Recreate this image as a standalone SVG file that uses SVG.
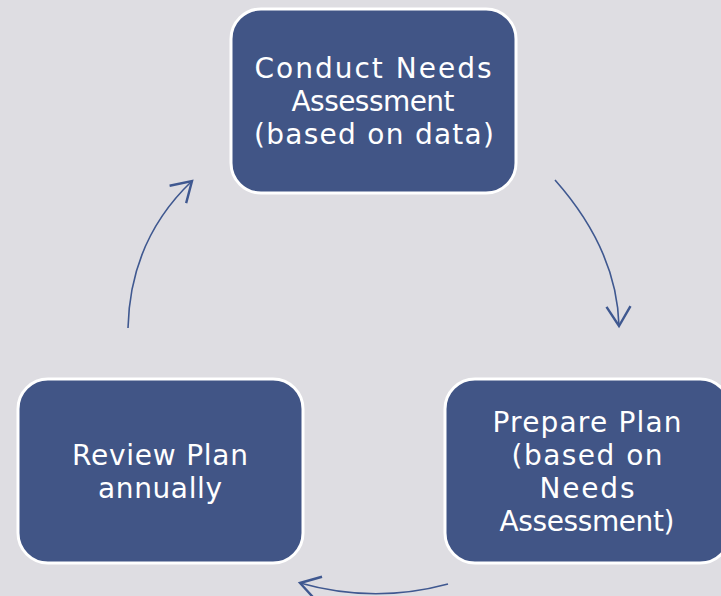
<svg xmlns="http://www.w3.org/2000/svg" width="721" height="596" viewBox="0 0 721 596">
<style>
.box{fill:#415586;stroke:#ffffff;stroke-width:3}
.t{font-family:"DejaVu Sans","Liberation Sans",Arial,sans-serif;font-size:28px;fill:#ffffff;text-anchor:middle}
.c{fill:none;stroke:#3f5890;stroke-width:1.6}
</style>
<defs>
<marker id="ah" markerUnits="userSpaceOnUse" markerWidth="30" markerHeight="30" refX="0" refY="0" viewBox="-16 -10 20 20" orient="auto">
<path d="M-13,-8 L0,0 L-13,8" fill="none" stroke="#3f5890" stroke-width="1.6"/>
</marker>
</defs>
<rect width="721" height="596" fill="#dedde2"/>
<g id="node-conduct">
<rect class="box" x="231" y="9" width="285" height="184" rx="30"/>
<text class="t"><tspan x="373" y="78" textLength="237" lengthAdjust="spacing">Conduct Needs</tspan><tspan x="373" y="111" textLength="163" lengthAdjust="spacing">Assessment</tspan><tspan x="374" y="144" textLength="240" lengthAdjust="spacing">(based on data)</tspan></text>
</g>
<g id="node-prepare">
<rect class="box" x="445" y="379" width="285" height="184" rx="30"/>
<text class="t"><tspan x="587" y="432" textLength="189" lengthAdjust="spacing">Prepare Plan</tspan><tspan x="587" y="465" textLength="151" lengthAdjust="spacing">(based on</tspan><tspan x="587" y="498" textLength="95" lengthAdjust="spacing">Needs</tspan><tspan x="587" y="531" textLength="175" lengthAdjust="spacing">Assessment)</tspan></text>
</g>
<g id="node-review">
<rect class="box" x="18" y="379" width="285" height="184" rx="30"/>
<text class="t"><tspan x="160" y="465" textLength="176" lengthAdjust="spacing">Review Plan</tspan><tspan x="160" y="498" textLength="124" lengthAdjust="spacing">annually</tspan></text>
</g>
<g id="connectors">
<path class="c" d="M555,180 Q617,250 619,326" marker-end="url(#ah)"/>
<path class="c" d="M448,584 Q374,604 300,583" marker-end="url(#ah)"/>
<path class="c" d="M128,328 Q130,240 192,181" marker-end="url(#ah)"/>
</g>
</svg>
